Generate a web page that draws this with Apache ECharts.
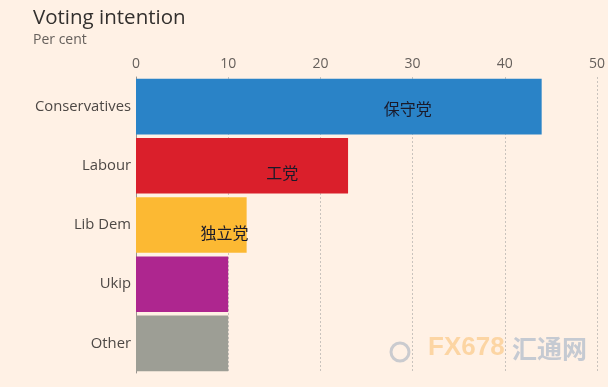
<!DOCTYPE html>
<html><head><meta charset="utf-8">
<script src="https://cdn.jsdelivr.net/npm/echarts@6/dist/echarts.min.js"></script>
<style>html,body{margin:0;padding:0;background:#FFF1E5;}#c{width:608px;height:387px;}</style>
</head><body><div id="c"></div>
<script>
const categories = ['Conservatives','Labour','Lib Dem','Ukip','Other'];
const values = [44, 23, 12, 10, 10];
const barLabels = ['保守党','工党','独立党','',''];
const xTicks = [0,10,20,30,40,50];
const colors = ['#2A83C7','#DA1F2B','#FCB933','#AE268F','#9D9E95'];
const labelPos = [['67%','54%'],['69%','62%'],['80%','64%'],['50%','50%'],['50%','50%']];

const chart = echarts.init(document.getElementById('c'), null, {renderer:'canvas'});
chart.setOption({
  backgroundColor:'#FFF1E5',
  animation:false,
  title:{
    text:'Voting intention', subtext:'Per cent', left:33, top:8, itemGap:4, padding:0,
    textStyle:{fontFamily:'Open Sans', fontSize:20.5, fontWeight:'normal', color:'#33302E'},
    subtextStyle:{fontFamily:'Open Sans', fontSize:14, color:'#66605C'}
  },
  grid:{left:136, right:11, top:77, bottom:14, containLabel:false},
  xAxis:{
    type:'value', position:'top', min:0, max:50, interval:10,
    axisLine:{show:false}, axisTick:{show:false},
    axisLabel:{fontFamily:'Open Sans', fontSize:14, color:'#66605C', margin:6,
      formatter:v=>xTicks.includes(v)?String(v):''},
    splitLine:{show:true, lineStyle:{type:[2,2], color:'#C9C3BD', width:1}}
  },
  yAxis:{
    type:'category', inverse:true, data:categories,
    axisLine:{show:true, lineStyle:{color:'#9A9590', width:1}},
    axisTick:{show:false},
    axisLabel:{fontFamily:'Open Sans', fontSize:14.8, color:'#4D4845', margin:5, padding:[3,0,0,0]}
  },
  series:[{
    type:'bar', barCategoryGap:'6%',
    data: values.map((v,i)=>({
      value:v,
      itemStyle:{color:colors[i]},
      label:{show:!!barLabels[i], formatter:barLabels[i], position:labelPos[i],
        align:'center', verticalAlign:'middle',
        fontFamily:'Noto Sans CJK SC', fontSize:16, color:'#1a1a2a'}
    }))
  }],
  graphic:[
    {type:'text', left:428, top:335, style:{text:'FX678', font:'bold 26px "Liberation Sans"', fill:'rgba(250,190,110,0.55)'}},
    {type:'text', left:512, top:336, style:{text:'汇通网', font:'bold 25px "Noto Sans CJK SC"', fill:'rgba(150,170,195,0.55)'}},
    {type:'circle', shape:{cx:400, cy:352, r:9}, style:{fill:'none', stroke:'rgba(150,165,185,0.5)', lineWidth:3}}
  ]
});
</script></body></html>
